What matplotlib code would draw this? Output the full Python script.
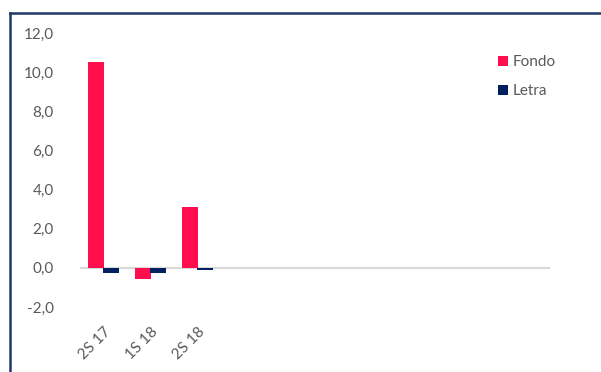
import matplotlib.pyplot as plt
import numpy as np
from matplotlib.lines import Line2D
from matplotlib.ticker import FuncFormatter

# Category slots on the x axis (only the first three have data)
categories = ["2S 17", "1S 18", "2S 18", "", "", "", "", "", "", ""]
fondo = [10.5, -0.55, 3.1]
letra = [-0.25, -0.25, -0.12]
yticks = [-2, 0, 2, 4, 6, 8, 10, 12]

pink = "#FF0D4D"
navy = "#002060"
grey_text = "#595959"

plt.rcParams["font.family"] = ["Lato", "DejaVu Sans"]

fig = plt.figure(figsize=(6.01, 3.72), dpi=100)
ax = fig.add_axes([80 / 601, 1 - 307 / 372, 470 / 601, 274 / 372])

x = np.arange(len(fondo))
w = 0.34
ax.axhline(0, color="#d9d9d9", lw=1.6, zorder=1)
ax.bar(x - 0.16, fondo, w, color=pink, label="Fondo", zorder=2)
ax.bar(x + 0.15, letra, w, color=navy, label="Letra", zorder=2)

ax.set_xlim(-0.5, len(categories) - 0.5)
ax.set_ylim(-2, 12)
ax.set_yticks(yticks)
ax.yaxis.set_major_formatter(FuncFormatter(lambda v, p: f"{v:.1f}".replace(".", ",")))
ax.set_xticks(np.arange(len(categories)))
ax.set_xticklabels(categories, rotation=45, ha="right", rotation_mode="anchor")

ax.tick_params(axis="both", length=0, colors=grey_text, labelsize=11)
ax.tick_params(axis="y", pad=19)
ax.tick_params(axis="x", pad=13)
for s in ax.spines.values():
    s.set_visible(False)

leg = ax.legend(loc="upper left", bbox_to_anchor=(404 / 470, 0.97), frameon=False,
                handlelength=0.65, handleheight=0.65, handletextpad=0.3,
                labelspacing=1.0, fontsize=11, labelcolor=grey_text)

# Frame lines drawn around the chart (top and left edges)
fig.add_artist(Line2D([10 / 601, 1], [1 - 13 / 372, 1 - 13 / 372], color="#1F3864", lw=1.8,
                      transform=fig.transFigure))
fig.add_artist(Line2D([10 / 601, 10 / 601], [0, 1 - 13 / 372], color="#1F3864", lw=1.8,
                      transform=fig.transFigure))

fig.savefig("out.png", dpi=100)
